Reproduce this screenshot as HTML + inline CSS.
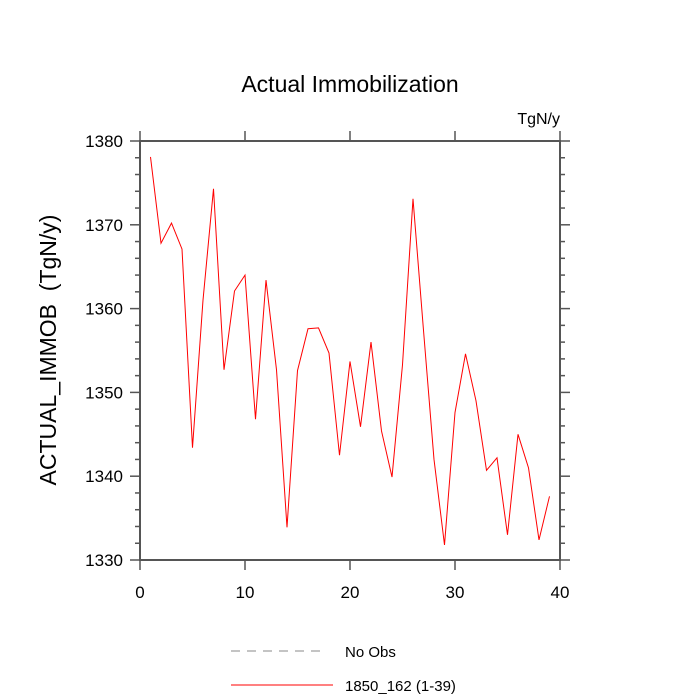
<!DOCTYPE html>
<html><head><meta charset="utf-8"><style>
body{margin:0;background:#fff}
svg{display:block;font-family:"Liberation Sans",sans-serif}
</style></head><body>
<svg id="c" width="700" height="700">
<text x="350" y="92" font-size="23" text-anchor="middle">Actual Immobilization</text>
<text x="560" y="124" font-size="16" text-anchor="end">TgN/y</text>
<text transform="translate(56,350) rotate(-90)" font-size="23" text-anchor="middle" style="white-space:pre">ACTUAL_IMMOB  (TgN/y)</text>
<g id="axes"></g>
<g id="series"></g>
<g>
<line x1="231" y1="651" x2="327" y2="651" stroke="#888" stroke-width="1" stroke-dasharray="9,7"/>
<text x="345" y="657" font-size="15">No Obs</text>
<line x1="231" y1="685" x2="333" y2="685" stroke="#f00" stroke-width="1"/>
<text x="345" y="691" font-size="15">1850_162 (1-39)</text>
</g>
</svg>
<script>
const years=[1,2,3,4,5,6,7,8,9,10,11,12,13,14,15,16,17,18,19,20,21,22,23,24,25,26,27,28,29,30,31,32,33,34,35,36,37,38,39];
const values=[1378.1,1367.8,1370.2,1367.1,1343.4,1361,1374.3,1352.7,1362.1,1364.0,1346.8,1363.4,1352.7,1333.9,1352.6,1357.6,1357.7,1354.7,1342.5,1353.7,1345.9,1356.0,1345.4,1339.9,1353.3,1373.1,1357.4,1342,1331.8,1347.6,1354.6,1349,1340.7,1342.2,1333,1345,1341,1332.4,1337.6];
const xTicks=[0,10,20,30,40];
const yTicks=[1330,1340,1350,1360,1370,1380];
const NS="http://www.w3.org/2000/svg";
const L=140,R=560,T=141,B=560,xmin=0,xmax=40,ymin=1330,ymax=1380;
const X=v=>L+(v-xmin)/(xmax-xmin)*(R-L);
const Y=v=>B-(v-ymin)/(ymax-ymin)*(B-T);
const ax=document.getElementById('axes');
function mk(t,a,p){const e=document.createElementNS(NS,t);for(const k in a)e.setAttribute(k,a[k]);p.appendChild(e);return e;}
const fr=mk('rect',{x:L,y:T,width:R-L,height:B-T,fill:'none',stroke:'#555','stroke-width':2},ax);


const st={stroke:'#555','stroke-width':1.5};
xTicks.forEach(v=>{
  const x=X(v);
  const t1=mk('line',Object.assign({x1:x,x2:x,y1:B,y2:B+10},st),ax);
  
  
  const t2=mk('line',Object.assign({x1:x,x2:x,y1:T,y2:T-10},st),ax);
  
  
  const tx=mk('text',{x:x,y:B+38,'font-size':17,'text-anchor':'middle'},ax);
  tx.textContent=v;
  
  
});
for(let v=ymin;v<=ymax;v+=2){
  const y=Y(v);const major=(v%10===0);const len=major?10:5;
  const a=mk('line',Object.assign({x1:L,x2:L-len,y1:y,y2:y},st),ax);
  
  
  const b=mk('line',Object.assign({x1:R,x2:R+len,y1:y,y2:y},st),ax);
  
  
}
yTicks.forEach(v=>{
  const tx=mk('text',{x:L-17,y:Y(v)+6,'font-size':17,'text-anchor':'end'},ax);
  tx.textContent=v;
  
  
});
const pl=mk('polyline',{points:years.map((d,i)=>X(d)+','+Y(values[i])).join(' '),fill:'none',stroke:'#f00','stroke-width':1},document.getElementById('series'));


</script>
</body></html>
